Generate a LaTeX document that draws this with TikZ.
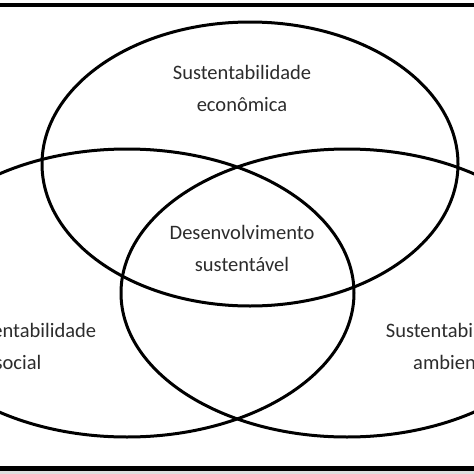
\documentclass[tikz,border=0pt]{standalone}
\usepackage{fontspec}
\setmainfont{Carlito}
\usepackage{tikz}
\usepackage{xcolor}
\definecolor{txtgray}{HTML}{2c2c2c}

\begin{document}
\begin{tikzpicture}[x=1pt,y=-1pt,
        ring/.style={line width=3pt},
        lbl/.style={align=center,text=txtgray,inner sep=0pt,font=\fontsize{20.5}{31.5}\selectfont}]
        \useasboundingbox (0,0) rectangle (474,474);
        \clip (0,0) rectangle (474,474);
        \fill[gray!25] (0,471) rectangle (474,474);
        \draw[line width=3.5pt] (0,5) -- (474,5);
        \draw[line width=5pt] (0,468.5) -- (474,468.5);
        \draw[ring] (250,164) ellipse [x radius=208pt, y radius=142pt];
        \draw[ring] (127,293) ellipse [x radius=227pt, y radius=144pt];
        \draw[ring] (347,293) ellipse [x radius=226pt, y radius=144pt];
        \node[lbl,anchor=base] (eco) at (242,111) {Sustentabilidade\\econômica};
        \node[lbl,anchor=base] (des) at (242,271) {Desenvolvimento\\sustentável};
        \node[lbl,anchor=base] (soc) at (27,369) {Sustentabilidade\\social\hspace*{18pt}};
        \node[lbl,anchor=base] (amb) at (455,369) {Sustentabilidade\\ambiental};
    \end{tikzpicture}
\end{document}
